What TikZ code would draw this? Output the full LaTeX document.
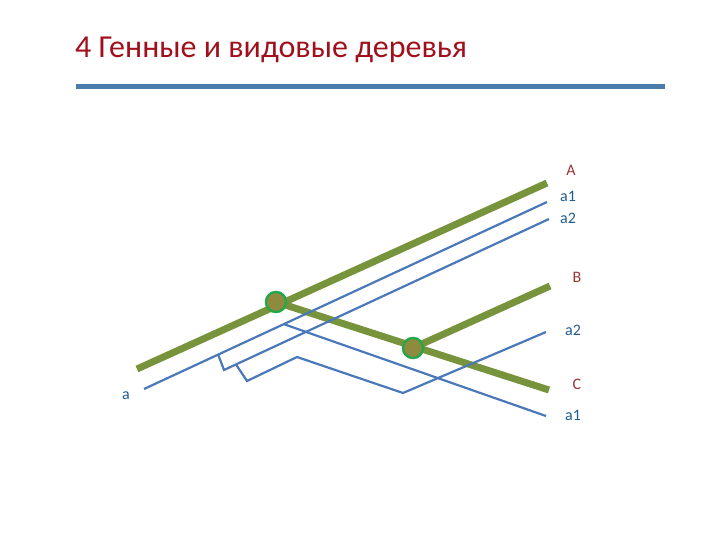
\documentclass[tikz,border=0pt]{standalone}
\usepackage{fontspec}
\setmainfont{Carlito}
\definecolor{titlered}{HTML}{A00F1C}
\definecolor{barblue}{HTML}{4A7DAA}
\definecolor{sgreen}{HTML}{77933C}
\definecolor{gblue}{HTML}{4A78B8}
\definecolor{lblred}{HTML}{953735}
\definecolor{lblblue}{HTML}{1F5B8E}
\definecolor{nodefill}{HTML}{8E8A3E}
\definecolor{noderim}{HTML}{22A84A}
\tikzset{
  species/.style={draw=sgreen, line width=7bp},
  gene/.style={draw=gblue, line width=2.2bp, line join=miter},
  spec/.style={circle, fill=nodefill, draw=noderim, line width=2.2bp, minimum size=20bp, inner sep=0pt},
  splbl/.style={text=lblred, font=\fontsize{16bp}{18bp}\selectfont, inner sep=0pt},
  gnlbl/.style={text=lblblue, font=\fontsize{16bp}{18bp}\selectfont, inner sep=0pt}
}
\begin{document}
\begin{tikzpicture}[x=1bp, y=-1bp]
\useasboundingbox (0,0) rectangle (720,540);
% title
\node[anchor=base west, inner sep=0pt, text=titlered, font=\fontsize{32bp}{34bp}\selectfont] (title) at (75,58) {4 Генные и видовые деревья};
\coordinate (barL) at (76,87);
\coordinate (barR) at (665,87);
\draw[barblue, line width=5bp] (barL) -- (barR);

% species tree endpoints
\coordinate (gA0) at (137,369);
\coordinate (gA1) at (547,183);
\coordinate (gB1) at (550,286);
\coordinate (gC1) at (549,390);
\node[spec] (s1) at (276,302) {};
\node[spec] (s2) at (413,348) {};
\draw[species] (gA0) -- (gA1);
\draw[species] (s1.center) -- (gC1);
\draw[species] (s2.center) -- (gB1);

% gene tree
\coordinate (a0) at (144,389);
\coordinate (a1A) at (547,202);
\coordinate (b1) at (218,354.2);
\coordinate (b1d) at (224,370);
\coordinate (a2A) at (549,219);
\coordinate (b2) at (236,364.4);
\coordinate (b2d) at (247,381);
\coordinate (b2e) at (297,357);
\coordinate (b2f) at (403,393);
\coordinate (a2B) at (546,332);
\coordinate (b3) at (284,324.2);
\coordinate (a1C) at (546,416);
\draw[gene] (a0) -- (a1A);
\draw[gene] (b1) -- (b1d) -- (a2A);
\draw[gene] (b2) -- (b2d) -- (b2e) -- (b2f) -- (a2B);
\draw[gene] (b3) -- (a1C);

% redraw circles on top
\node[spec] at (s1) {};
\node[spec] at (s2) {};

% labels
\node[splbl] (lA) at (571,170) {A};
\node[gnlbl] (la1A) at (568,196) {a1};
\node[gnlbl] (la2A) at (568,218) {a2};
\node[splbl] (lB) at (577,277) {B};
\node[gnlbl] (la2B) at (573,330) {a2};
\node[splbl] (lC) at (577,384) {C};
\node[gnlbl] (la1C) at (573,415) {a1};
\node[gnlbl] (la) at (126,396) {a};
\end{tikzpicture}
\end{document}
